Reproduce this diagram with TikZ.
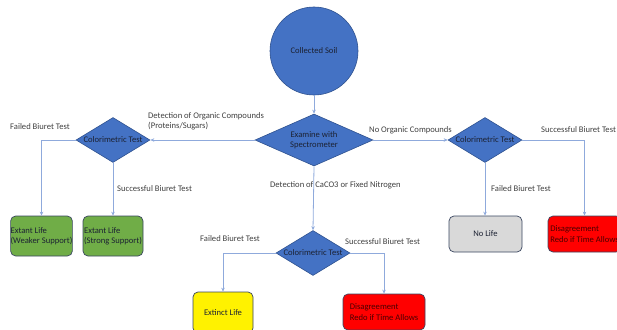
\documentclass[tikz,border=0pt]{standalone}
\usepackage{fontspec}
\setmainfont{Carlito}
\usetikzlibrary{shapes.geometric,arrows.meta}
\definecolor{shapeblue}{HTML}{4472C4}
\definecolor{shapeedge}{HTML}{2F528F}
\definecolor{flowblue}{HTML}{8FAADC}
\definecolor{boxedge}{HTML}{3A4660}
\definecolor{lifegreen}{HTML}{70AD47}
\definecolor{nolifegray}{HTML}{D9D9D9}
\definecolor{labelgray}{HTML}{404040}
\definecolor{darkink}{HTML}{1C2233}
\definecolor{redink}{HTML}{4A0000}
\begin{document}
\begin{tikzpicture}[x=1pt,y=-1pt,
  font=\fontsize{8.6}{10.2}\selectfont,
  startcircle/.style={circle, draw=shapeedge, fill=shapeblue, line width=0.6pt,
    minimum size=88pt, inner sep=0pt, text=darkink},
  decision/.style={diamond, draw=shapeedge, fill=shapeblue, line width=0.6pt,
    inner sep=0pt, align=center, text=darkink},
  testdiamond/.style={decision, minimum width=74pt, minimum height=45pt, aspect=1.64},
  outcome/.style={rectangle, rounded corners=5pt, draw=boxedge, line width=0.7pt,
    inner sep=0pt, align=left, text=darkink},
  flow/.style={draw=flowblue, line width=0.8pt, -{Stealth[length=4pt,width=3.5pt]}},
  lbl/.style={anchor=west, inner sep=0pt, align=left, text=labelgray}]
\useasboundingbox (0,0) rectangle (617,329);
\clip (0,0) rectangle (617,329);

% decision nodes
\node[startcircle] (soil) at (314,51) {Collected Soil};
\node[decision, minimum width=118pt, minimum height=52pt, aspect=2.27] (spec) at (314,140) {Examine with\\Spectrometer};
\node[testdiamond] (ctl) at (113,140) {Colorimetric Test};
\node[testdiamond] (ctr) at (485,140) {Colorimetric Test};
\node[testdiamond] (ctb) at (313,253) {Colorimetric Test};

% outcomes
\node[outcome, fill=lifegreen, minimum width=59pt, minimum height=40pt] (weak) at (41.5,236) {Extant Life\\(Weaker Support)};
\node[outcome, fill=lifegreen, minimum width=60pt, minimum height=40pt] (strong) at (113,236) {Extant Life\\(Strong Support)};
\node[outcome, fill=nolifegray, minimum width=73pt, minimum height=36pt] (nolife) at (485.5,234) {No Life};
\node[outcome, fill=red, text=redink, minimum width=73pt, minimum height=36pt] (disR) at (584.5,234) {Disagreement\\Redo if Time Allows};
\node[outcome, fill=yellow, minimum width=60pt, minimum height=41pt] (extinct) at (223,312.5) {Extinct Life};
\node[outcome, fill=red, text=redink, minimum width=82pt, minimum height=36pt] (disB) at (384,312) {Disagreement\\Redo if Time Allows};

% connectors
\draw[flow] (soil.south) -- (spec.north);
\draw[flow] (spec.west) -- (ctl.east);
\draw[flow] (spec.east) -- (ctr.west);
\draw[flow] (spec.south) -- (ctb.north);
\draw[flow] (ctl.west) -| (weak.north);
\draw[flow] (ctl.south) -- (strong.north);
\draw[flow] (ctr.south) -- (ctr.south |- nolife.north);
\draw[flow] (ctr.east) -| (disR.north);
\draw[flow] (ctb.west) -| (extinct.north);
\draw[flow] (ctb.east) -| (disB.north);

% connector labels
\node[lbl] (l1) at (148,121) {Detection of Organic Compounds\\(Proteins/Sugars)};
\node[lbl] (l2) at (369,130) {No Organic Compounds};
\node[lbl] (l3) at (270,185) {Detection of CaCO3 or Fixed Nitrogen};
\node[lbl] (l4) at (10,127) {Failed Biuret Test};
\node[lbl] (l5) at (117,189) {Successful Biuret Test};
\node[lbl] (l6) at (491,189) {Failed Biuret Test};
\node[lbl] (l7) at (541,130) {Successful Biuret Test};
\node[lbl] (l8) at (200,239) {Failed Biuret Test};
\node[lbl] (l9) at (345,242) {Successful Biuret Test};
\end{tikzpicture}
\end{document}
